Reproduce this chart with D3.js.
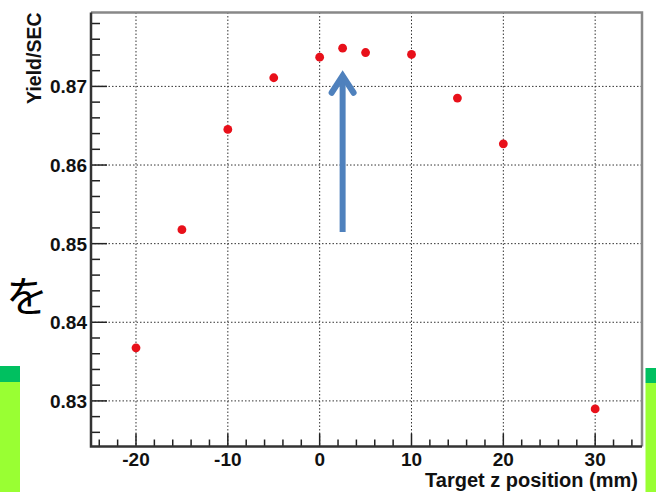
<!DOCTYPE html>
<html>
<head>
<meta charset="utf-8">
<script src="https://cdn.jsdelivr.net/npm/d3@7"></script>
<style>
  body { margin: 0; background: #fff; }
  svg { display: block; font-family: "Liberation Sans", Arial, sans-serif; }
</style>
</head>
<body>
<svg width="656" height="492"></svg>
<script>
// z position (mm) and yield/SEC
const zPos = [-20, -15, -10, -5, 0, 2.5, 5, 10, 15, 20, 30];
const yieldSec = [0.83675, 0.85178, 0.86453, 0.8711, 0.87372, 0.87486, 0.87431, 0.87406, 0.86852, 0.8627, 0.82898];
const xTicks = [-20, -10, 0, 10, 20, 30];
const yTicks = [0.83, 0.84, 0.85, 0.86, 0.87];
const arrowX = 2.5;
const arrowY = [0.85147, 0.87161];

const svg = d3.select("svg");
const W = 656, H = 492;
const pLeft = 91, pRight = 642, pTop = 12.5, pBottom = 446.5;

const x = d3.scaleLinear().domain([-24.9, 35.1]).range([pLeft, pRight]);
const y = d3.scaleLinear().domain([0.8242, 0.8794]).range([pBottom, pTop]);

// background slide pieces
svg.append("rect").attr("x", 0).attr("y", 366).attr("width", 20).attr("height", 16).attr("fill", "#00c060");
svg.append("rect").attr("x", 0).attr("y", 382).attr("width", 20).attr("height", H - 382).attr("fill", "#99ff33");
svg.append("rect").attr("x", 645.5).attr("y", 368).attr("width", W - 645.5).attr("height", 15).attr("fill", "#00c060");
svg.append("rect").attr("x", 645.5).attr("y", 383).attr("width", W - 645.5).attr("height", H - 383).attr("fill", "#99ff33");
svg.append("text").attr("x", 6).attr("y", 312)
  .style("font-family", "'Noto Sans CJK JP', sans-serif")
  .style("font-size", "42px").attr("fill", "#000").text("を");

// grid
const grid = svg.append("g").attr("stroke", "#333").attr("stroke-width", 1).attr("stroke-dasharray", "1.5,2");
grid.selectAll(".gx").data(xTicks).join("line")
  .attr("x1", d => x(d)).attr("x2", d => x(d)).attr("y1", pTop).attr("y2", pBottom);
grid.selectAll(".gy").data(yTicks).join("line")
  .attr("y1", d => y(d)).attr("y2", d => y(d)).attr("x1", pLeft).attr("x2", pRight);

// frame (top/right grey)
svg.append("path")
  .attr("d", `M${pLeft},${pTop}H${pRight}V${pBottom}`)
  .attr("fill", "none").attr("stroke", "#888").attr("stroke-width", 2.5);

// ticks inward
const xMinor = d3.range(-24, 36, 2).filter(v => v % 10 !== 0);
const yMinor = d3.range(413, 440).map(v => v / 500).filter(v => Math.round(v * 1000) % 10 !== 0);
const tk = svg.append("g").attr("stroke", "#222").attr("stroke-width", 1.5);
tk.selectAll(".xm").data(xTicks).join("line")
  .attr("x1", d => x(d)).attr("x2", d => x(d)).attr("y1", pBottom).attr("y2", pBottom - 13);
tk.selectAll(".xn").data(xMinor).join("line")
  .attr("x1", d => x(d)).attr("x2", d => x(d)).attr("y1", pBottom).attr("y2", pBottom - 7);
tk.selectAll(".ym").data(yTicks).join("line")
  .attr("y1", d => y(d)).attr("y2", d => y(d)).attr("x1", pLeft).attr("x2", pLeft + 16);
tk.selectAll(".yn").data(yMinor.filter(v => v > 0.8242 && v < 0.8794)).join("line")
  .attr("y1", d => y(d)).attr("y2", d => y(d)).attr("x1", pLeft).attr("x2", pLeft + 9);

// left/bottom axis lines
svg.append("path")
  .attr("d", `M${pLeft},${pTop}V${pBottom}H${pRight}`)
  .attr("fill", "none").attr("stroke", "#333").attr("stroke-width", 2.5);

// tick labels
svg.selectAll(".xl").data(xTicks).join("text")
  .attr("x", d => x(d)).attr("y", 465.5).attr("text-anchor", "middle")
  .style("font-size", "19px").style("font-weight", "bold").attr("fill", "#111")
  .text(d => d);
svg.selectAll(".yl").data(yTicks).join("text")
  .attr("x", 87).attr("y", d => y(d) + 7).attr("text-anchor", "end")
  .style("font-size", "19px").style("font-weight", "bold").attr("fill", "#111")
  .text(d => d3.format(".2f")(d));

// axis titles
svg.append("text").attr("x", 638).attr("y", 486.5).attr("text-anchor", "end")
  .style("font-size", "20px").style("font-weight", "bold").attr("fill", "#111")
  .text("Target z position (mm)");
svg.append("text").attr("transform", `translate(41,${pTop}) rotate(-90)`).attr("text-anchor", "end")
  .style("font-size", "19.5px").style("font-weight", "bold").attr("fill", "#111")
  .text("Yield/SEC");

// points
svg.selectAll(".pt").data(zPos).join("circle")
  .attr("cx", d => x(d)).attr("cy", (d, i) => y(yieldSec[i]))
  .attr("r", 4.4).attr("fill", "#e8101a");

// arrow
const ax = x(arrowX), ay0 = y(arrowY[0]), ay1 = y(arrowY[1]);
svg.append("line").attr("x1", ax).attr("x2", ax).attr("y1", ay0).attr("y2", ay1 + 3)
  .attr("stroke", "#4f81bd").attr("stroke-width", 6);
svg.append("path")
  .attr("d", `M${ax - 11},${ay1 + 19}L${ax},${ay1 + 2}L${ax + 11},${ay1 + 19}`)
  .attr("fill", "none").attr("stroke", "#4f81bd").attr("stroke-width", 6)
  .attr("stroke-linejoin", "miter").attr("stroke-linecap", "round");
</script>
</body>
</html>
